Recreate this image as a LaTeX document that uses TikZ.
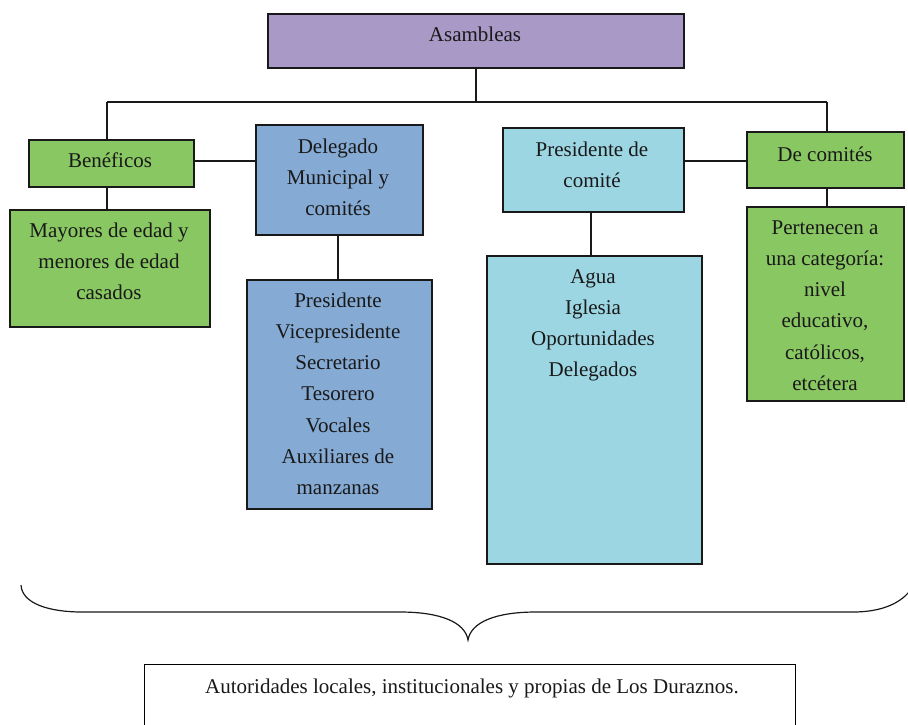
\documentclass[tikz,border=0pt]{standalone}
\usepackage{fontspec}
\setmainfont{Liberation Serif}
\definecolor{cpurple}{RGB}{168,153,198}
\definecolor{cgreen}{RGB}{137,199,98}
\definecolor{cblue}{RGB}{133,170,212}
\definecolor{ccyan}{RGB}{157,214,227}
\definecolor{cink}{RGB}{25,25,25}
\newcommand{\tlines}[1]{\begin{tabular}[t]{@{}c@{}}#1\end{tabular}}
\tikzset{
  box/.style={draw=cink, line width=1.8pt, inner sep=0pt, anchor=north west},
  txt/.style={anchor=base, inner sep=0pt, text=cink, font=\fontsize{21}{31.3}\selectfont},
  conn/.style={draw=cink, line width=1.3pt},
}
\begin{document}
\begin{tikzpicture}[x=1pt,y=-1pt]
\useasboundingbox (0,0) rectangle (908,724);
\clip (0,0) rectangle (908,724);
% boxes
\node[box, fill=cpurple, minimum width=416pt, minimum height=54pt] (asam) at (267,13) {};
\node[box, fill=cgreen, minimum width=165pt, minimum height=47pt] (benef) at (28,139) {};
\node[box, fill=cgreen, minimum width=200pt, minimum height=117pt] (mayor) at (9,209) {};
\node[box, fill=cblue, minimum width=167pt, minimum height=110pt] (deleg) at (255,124) {};
\node[box, fill=cblue, minimum width=185pt, minimum height=229pt] (pres) at (246,279) {};
\node[box, fill=ccyan, minimum width=181pt, minimum height=84pt] (prcom) at (502,127) {};
\node[box, fill=ccyan, minimum width=215pt, minimum height=308pt] (agua) at (486,255) {};
\node[box, fill=cgreen, minimum width=157pt, minimum height=56pt] (decom) at (746,131) {};
\node[box, fill=cgreen, minimum width=157pt, minimum height=194pt] (perte) at (746,206) {};
\node[box, draw=black, line width=1pt, minimum width=651pt, minimum height=100pt] (autor) at (144,664) {};
% texts
\node[txt] (asam-t) at (475,41) {\tlines{Asambleas}};
\node[txt] (benef-t) at (110,167) {\tlines{Benéficos}};
\node[txt] (mayor-t) at (109,237) {\tlines{Mayores de edad y\\menores de edad\\casados}};
\node[txt] (deleg-t) at (338,153) {\tlines{Delegado\\Municipal y\\comités}};
\node[txt] (pres-t) at (338,307) {\tlines{Presidente\\Vicepresidente\\Secretario\\Tesorero\\Vocales\\Auxiliares de\\manzanas}};
\node[txt] (prcom-t) at (592,156) {\tlines{Presidente de\\comité}};
\node[txt] (agua-t) at (593,283) {\tlines{Agua\\Iglesia\\Oportunidades\\Delegados}};
\node[txt] (decom-t) at (825,161) {\tlines{De comités}};
\node[txt] (perte-t) at (825,234) {\tlines{Pertenecen a\\una categoría:\\nivel\\educativo,\\católicos,\\etcétera}};
\node[txt] (autor-t) at (472,693) {Autoridades locales, institucionales y propias de Los Duraznos.};
% connectors
\coordinate (busL) at (107,102);
\coordinate (busR) at (827,102);
\draw[conn] (asam.south) -- (asam.south |- busL);
\draw[conn] (busL) -- (busR);
\draw[conn] (busL) -- (busL |- benef.north);
\draw[conn] (busR) -- (busR |- decom.north);
\draw[conn] (benef.south -| busL) -- (busL |- mayor.north);
\draw[conn] (decom.south -| busR) -- (busR |- perte.north);
\draw[conn] (benef.east |- 0,161) -- (deleg.west |- 0,161);
\draw[conn] (prcom.east |- 0,161) -- (decom.west |- 0,161);
\draw[conn] (deleg.south -| 338,0) -- (pres.north -| 338,0);
\draw[conn] (prcom.south -| 591,0) -- (agua.north -| 591,0);
% brace
\draw[line width=1.2pt, draw=cink]
  (21,585) .. controls (22,604) and (50,612) .. (82,612)
  -- (400,612) .. controls (440,612) and (465,622) .. (468,640)
  .. controls (471,622) and (496,612) .. (536,612)
  -- (853,612) .. controls (882,612) and (902,603) .. (912,588);
\end{tikzpicture}
\end{document}
